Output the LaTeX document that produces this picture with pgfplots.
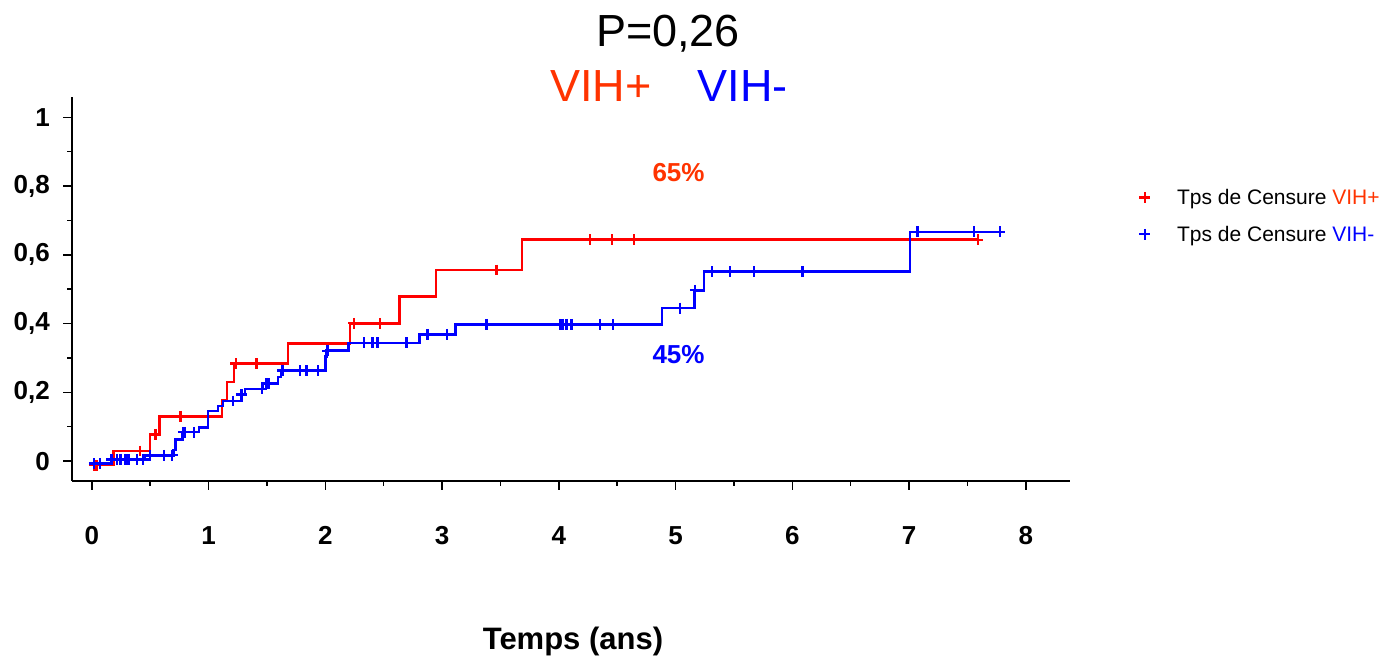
\documentclass[border=0pt]{standalone}
\usepackage{pgfplots}
\pgfplotsset{compat=1.18}
\usepackage{fontspec}
\setmainfont{Liberation Sans}
\definecolor{vihplus}{RGB}{255,51,0}
\definecolor{kmred}{RGB}{255,0,0}
\definecolor{kmblue}{RGB}{0,0,255}

\begin{document}
\begin{tikzpicture}[x=1bp,y=1bp]
\useasboundingbox (0,0) rectangle (1387,664);
\begin{axis}[
  at={(72bp,183bp)}, anchor=south west,
  scale only axis, width=998.2bp, height=383.9bp,
  xmin=-0.17, xmax=8.38, ymin=-0.058, ymax=1.059,
  axis x line*=bottom, axis y line*=left,
  axis line style={line width=1.8bp, -, black},
  xtick={0,1,2,3,4,5,6,7,8},
  xticklabels={0,1,2,3,4,5,6,7,8},
  minor xtick={0.5,1.5,2.5,3.5,4.5,5.5,6.5,7.5},
  ytick={0,0.2,0.4,0.6,0.8,1},
  yticklabels={0,{0,2},{0,4},{0,6},{0,8},1},
  minor ytick={0.1,0.3,0.5,0.7,0.9},
  tick align=outside,
  major tick length=9bp, minor tick length=5bp,
  every tick/.style={line width=1.5bp, black},
  ticklabel style={font=\fontsize{26bp}{26bp}\selectfont\bfseries},
  xticklabel style={inner sep=0pt, yshift=-36bp},
  yticklabel style={inner sep=0pt, xshift=-13bp},
  clip=false,
  legend style={at={(axis description cs:1.066,0.771)}, anchor=north west,
    draw=none, fill=none, font=\fontsize{21bp}{21bp}\selectfont,
    row sep=16bp, column sep=25bp},
  legend cell align=left,
]
% cumulative incidence, VIH+ group
\addplot[const plot, kmred, line width=2.6bp, forget plot] coordinates {
  (0,-0.012) (0.188,0.029) (0.497,0.078) (0.58,0.130) (1.116,0.177)
  (1.159,0.230) (1.216,0.284) (1.679,0.342) (2.21,0.401) (2.635,0.478)
  (2.946,0.556) (3.683,0.644) (7.59,0.644)
};
% cumulative incidence, VIH- group
\addplot[const plot, kmblue, line width=2.6bp, forget plot] coordinates {
  (0,-0.007) (0.168,0.005) (0.454,0.017) (0.697,0.032) (0.717,0.063)
  (0.777,0.084) (0.919,0.098) (0.994,0.146) (1.082,0.160) (1.125,0.175)
  (1.282,0.194) (1.313,0.210) (1.467,0.226) (1.596,0.244) (1.619,0.263)
  (2.0,0.305) (2.01,0.321) (2.196,0.344) (2.804,0.369) (3.115,0.398)
  (4.882,0.445) (5.162,0.497) (5.242,0.551) (7.006,0.667) (7.806,0.667)
};
% censoring times
\addplot[only marks, mark=+, mark size=5.4bp, kmred, mark options={line width=2.4bp}] coordinates {
  (0.02,-0.012) (0.04,-0.012) (0.41,0.029) (0.545,0.078) (0.76,0.130)
  (1.233,0.284) (1.41,0.284) (2.244,0.401) (2.467,0.401) (3.466,0.556)
  (4.266,0.644) (4.454,0.644) (4.642,0.644) (7.59,0.644)
};
\addlegendentry{Tps de Censure \textcolor{vihplus}{VIH+}}
\addplot[only marks, mark=+, mark size=5.4bp, kmblue, mark options={line width=2.4bp}] coordinates {
  (0.02,-0.007) (0.07,-0.007) (0.168,0.005) (0.217,0.005) (0.245,0.005)
  (0.283,0.005) (0.297,0.005) (0.317,0.005) (0.388,0.005) (0.44,0.005)
  (0.497,0.017) (0.62,0.017) (0.688,0.017) (0.782,0.084) (0.797,0.084)
  (0.874,0.084) (1.21,0.175) (1.282,0.194) (1.456,0.210) (1.497,0.226)
  (1.519,0.226) (1.633,0.263) (1.782,0.263) (1.833,0.263) (1.845,0.263)
  (1.938,0.263) (2.019,0.321) (2.33,0.344) (2.404,0.344) (2.447,0.344)
  (2.695,0.344) (2.875,0.369) (3.044,0.369) (3.38,0.398) (4.009,0.398)
  (4.031,0.398) (4.066,0.398) (4.109,0.398) (4.351,0.398) (4.465,0.398)
  (5.036,0.445) (5.168,0.497) (5.313,0.551) (5.465,0.551) (5.67,0.551)
  (6.087,0.551) (7.072,0.667) (7.555,0.667) (7.777,0.667)
};
\addlegendentry{Tps de Censure \textcolor{kmblue}{VIH-}}
\node[font=\fontsize{26bp}{26bp}\selectfont\bfseries, text=vihplus] at (axis cs:5.025,0.839) {65\%};
\node[font=\fontsize{26bp}{26bp}\selectfont\bfseries, text=kmblue] at (axis cs:5.025,0.311) {45\%};
\end{axis}
\node[anchor=base, font=\fontsize{45bp}{45bp}\selectfont] at (668,617) {P=0,26};
\node[anchor=base, font=\fontsize{45bp}{45bp}\selectfont, text=vihplus] at (600.8,562) {VIH+};
\node[anchor=base, font=\fontsize{45bp}{45bp}\selectfont, text=kmblue] at (742.5,562) {VIH-};
\node[anchor=base, font=\fontsize{31bp}{31bp}\selectfont\bfseries] at (573,14) {Temps (ans)};
\end{tikzpicture}
\end{document}
